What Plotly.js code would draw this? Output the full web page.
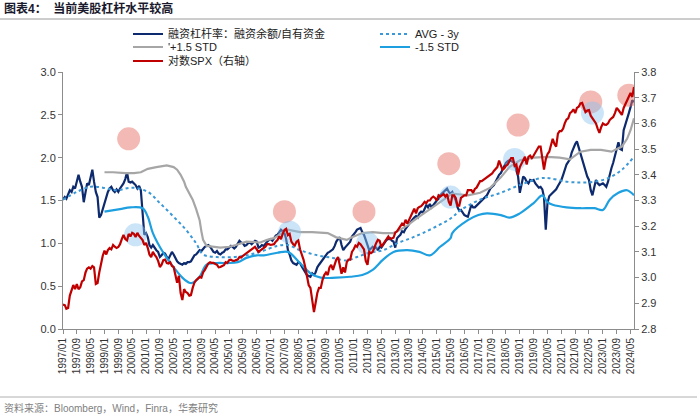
<!DOCTYPE html>
<html><head><meta charset="utf-8">
<script src="https://cdn.plot.ly/plotly-3.0.1.min.js"></script>
<style>html,body{margin:0;padding:0;background:#fff;}#chart{width:700px;height:416px;}</style>
</head><body><div id="chart"></div>
<script>
// ---- data ----
const levStart = '1997-01';
const levVals = [
1.51,1.54,1.52,1.57,1.62,1.60,1.66,1.64,1.72,1.80,1.72,1.66,
1.48,1.60,1.70,1.68,1.76,1.86,1.72,1.60,1.54,1.30,1.33,1.40,
1.49,1.55,1.60,1.64,1.66,1.62,1.60,1.63,1.60,1.64,1.67,1.70,
1.75,1.83,1.72,1.71,1.72,1.70,1.68,1.64,1.67,1.62,1.35,1.10,
1.12,1.07,0.98,0.95,0.98,0.94,0.92,0.90,0.84,0.86,0.89,0.88,
0.84,0.82,0.86,0.90,0.87,0.82,0.79,0.77,0.76,0.75,0.77,0.76,
0.78,0.78,0.79,0.82,0.86,0.87,0.89,0.92,0.91,0.94,0.96,0.97,
0.98,0.96,0.93,0.90,0.89,0.91,0.88,0.87,0.89,0.90,0.93,0.93,
0.95,0.97,0.96,0.94,0.96,0.99,1.03,1.01,1.00,0.97,0.98,1.00,
1.01,0.99,1.01,1.03,1.02,0.95,0.96,0.98,0.97,1.00,1.02,1.04,
1.05,1.03,1.06,1.09,1.10,1.13,1.16,1.14,1.12,1.05,0.92,0.87,
0.80,0.77,0.76,0.75,0.78,0.77,0.73,0.69,0.66,0.63,0.62,0.61,
0.65,0.63,0.66,0.72,0.75,0.78,0.81,0.84,0.86,0.89,0.90,0.92,
0.93,0.97,1.02,1.05,1.07,0.98,0.92,0.95,0.97,1.00,1.02,1.08,
1.10,1.13,1.16,1.17,1.18,1.13,1.10,1.04,0.98,0.92,0.94,0.96,
0.94,0.95,0.92,0.96,0.95,0.98,1.00,1.04,1.05,1.06,1.03,1.02,
0.95,1.06,1.08,1.10,1.14,1.13,1.17,1.20,1.22,1.25,1.28,1.30,
1.32,1.30,1.35,1.37,1.36,1.40,1.45,1.42,1.46,1.42,1.45,1.47,
1.50,1.52,1.56,1.58,1.60,1.62,1.64,1.60,1.58,1.60,1.55,1.50,
1.42,1.38,1.39,1.36,1.33,1.32,1.31,1.38,1.45,1.42,1.42,1.44,
1.46,1.48,1.50,1.52,1.54,1.56,1.60,1.64,1.66,1.68,1.72,1.76,
1.80,1.82,1.86,1.90,1.94,1.96,1.97,1.96,1.95,1.94,1.85,1.78,
1.59,1.70,1.78,1.76,1.72,1.70,1.74,1.73,1.74,1.70,1.68,1.65,
1.66,1.63,1.54,1.16,1.47,1.55,1.57,1.59,1.61,1.63,1.67,1.70,
1.74,1.80,1.86,1.92,1.95,1.98,2.06,2.12,2.16,2.19,2.12,2.06,
1.98,1.90,1.84,1.78,1.74,1.62,1.56,1.66,1.74,1.70,1.68,1.69,
1.70,1.68,1.66,1.72,1.82,1.88,1.94,2.02,2.09,2.18,2.10,2.09,
2.32,2.38,2.44,2.52,2.59,2.67,2.65];

const spxStart = '1997-01';
const spxLogVals = [
2.895,2.893,2.879,2.882,2.930,2.950,2.971,2.955,2.975,2.955,2.963,2.985,
2.990,3.020,3.035,3.040,3.035,3.045,3.040,2.975,2.979,3.020,3.061,3.085,
3.105,3.090,3.107,3.115,3.110,3.127,3.120,3.115,3.119,3.130,3.150,3.166,
3.150,3.145,3.170,3.160,3.174,3.170,3.158,3.174,3.162,3.155,3.146,3.127,
3.135,3.115,3.090,3.080,3.100,3.088,3.080,3.065,3.041,3.050,3.068,3.070,
3.057,3.055,3.060,3.045,3.041,3.010,2.980,3.007,2.940,2.913,2.955,2.944,
2.940,2.930,2.932,2.960,2.980,2.990,2.995,3.002,3.000,3.020,3.030,3.041,
3.055,3.060,3.057,3.057,3.055,3.050,3.040,3.041,3.045,3.048,3.060,3.057,
3.068,3.070,3.066,3.065,3.068,3.070,3.080,3.078,3.085,3.090,3.096,3.100,
3.107,3.110,3.115,3.120,3.110,3.100,3.105,3.110,3.115,3.120,3.130,3.130,
3.127,3.130,3.130,3.140,3.146,3.160,3.150,3.170,3.185,3.190,3.165,3.170,
3.140,3.130,3.125,3.140,3.145,3.110,3.090,3.070,3.040,3.010,2.970,2.960,
2.920,2.866,2.900,2.940,2.960,2.960,2.990,3.010,3.020,3.010,3.040,3.050,
3.030,3.050,3.070,3.080,3.040,3.015,3.040,3.020,3.060,3.070,3.070,3.100,
3.110,3.125,3.120,3.135,3.130,3.120,3.110,3.065,3.050,3.100,3.095,3.100,
3.120,3.135,3.147,3.143,3.120,3.130,3.140,3.150,3.160,3.150,3.152,3.155,
3.175,3.180,3.190,3.200,3.210,3.205,3.225,3.210,3.225,3.245,3.260,3.268,
3.250,3.270,3.275,3.278,3.285,3.295,3.290,3.300,3.300,3.310,3.315,3.310,
3.300,3.320,3.315,3.320,3.325,3.315,3.325,3.295,3.280,3.320,3.320,3.310,
3.280,3.280,3.310,3.315,3.320,3.320,3.340,3.340,3.340,3.330,3.345,3.350,
3.360,3.375,3.375,3.380,3.385,3.390,3.395,3.400,3.405,3.415,3.425,3.430,
3.455,3.435,3.420,3.425,3.435,3.440,3.455,3.465,3.465,3.435,3.440,3.400,
3.430,3.445,3.455,3.470,3.440,3.470,3.475,3.465,3.475,3.485,3.500,3.510,
3.510,3.470,3.420,3.460,3.480,3.490,3.510,3.540,3.520,3.510,3.560,3.570,
3.570,3.580,3.600,3.615,3.620,3.640,3.645,3.655,3.640,3.660,3.665,3.678,
3.680,3.660,3.644,3.650,3.652,3.630,3.620,3.610,3.600,3.580,3.563,3.585,
3.600,3.595,3.594,3.600,3.613,3.620,3.625,3.640,3.660,3.652,3.640,3.633,
3.660,3.675,3.690,3.700,3.718,3.703,3.742];

const avgDates = ['1997-01','1997-09','1998-05','1998-12','1999-08','2000-05','2001-02','2001-09','2002-05','2002-12','2003-06','2003-10','2004-06','2005-03','2005-11','2006-07','2007-05','2007-11','2008-06','2009-04','2010-01','2010-09','2011-03','2011-10','2012-06','2013-02','2013-10','2014-05','2015-01','2015-09','2016-03','2017-02','2018-02','2019-01','2020-01','2020-06','2021-04','2021-12','2022-08','2023-04','2023-12','2024-07'];
const avgVals = [1.51,1.60,1.66,1.65,1.62,1.65,1.60,1.47,1.31,1.16,1.00,0.87,0.84,0.84,0.86,0.90,0.97,0.98,0.92,0.86,0.83,0.80,0.84,0.89,0.92,1.00,1.06,1.12,1.20,1.29,1.39,1.51,1.59,1.68,1.76,1.76,1.72,1.71,1.72,1.76,1.86,2.01];

const upDates = ['1999-01','1999-06','2000-01','2000-06','2000-10','2001-02','2001-07','2002-01','2002-05','2002-07','2002-09','2002-11','2002-12','2003-02','2003-04','2003-06','2003-08','2003-09','2003-10','2003-12','2004-04','2004-08','2005-01','2005-05','2005-11','2006-07','2006-11','2007-03','2007-06','2007-11','2008-06','2009-01','2009-10','2010-03','2010-09','2010-12','2011-06','2011-12','2012-06','2012-12','2013-04','2013-08','2014-02','2014-07','2015-01','2015-07','2015-10','2016-03','2016-07','2017-02','2017-08','2018-02','2018-07','2019-01','2019-09','2020-05','2020-12','2021-06','2021-12','2022-06','2022-12','2023-06','2023-12','2024-03','2024-05','2024-07'];
const upVals = [1.83,1.83,1.82,1.82,1.83,1.87,1.89,1.91,1.89,1.86,1.80,1.72,1.66,1.58,1.51,1.40,1.27,1.14,1.04,0.97,0.96,0.95,0.96,0.98,1.02,1.01,1.04,1.06,1.10,1.16,1.13,1.13,1.12,1.07,1.04,1.07,1.12,1.13,1.12,1.12,1.16,1.21,1.30,1.37,1.45,1.53,1.58,1.57,1.56,1.59,1.65,1.77,1.89,1.97,2.00,2.01,2.00,1.98,2.07,2.09,2.09,2.07,2.13,2.22,2.32,2.46];

const lowDates = ['1999-01','1999-10','2000-04','2000-11','2001-02','2001-05','2001-11','2002-05','2002-10','2003-02','2003-04','2003-08','2003-12','2004-06','2004-12','2005-06','2005-11','2006-05','2006-09','2007-05','2007-11','2008-06','2008-12','2009-06','2010-03','2010-11','2011-06','2011-12','2012-06','2012-12','2013-08','2014-03','2014-09','2015-03','2015-09','2015-10','2016-07','2017-01','2017-06','2018-02','2018-07','2019-01','2019-09','2020-02','2020-05','2020-08','2021-04','2021-12','2022-08','2023-01','2023-05','2023-10','2024-03','2024-07'];
const lowVals = [1.37,1.40,1.42,1.41,1.31,1.12,0.89,0.72,0.60,0.54,0.54,0.61,0.75,0.77,0.77,0.78,0.83,0.86,0.86,0.89,0.90,0.77,0.65,0.60,0.60,0.61,0.63,0.69,0.81,0.90,0.92,0.90,0.86,0.96,1.06,1.12,1.27,1.33,1.35,1.33,1.30,1.35,1.47,1.56,1.48,1.45,1.42,1.41,1.41,1.39,1.51,1.59,1.62,1.56];

// highlight circles (left axis)
const hotDates = ['2000-03','2007-09','2011-07','2015-08','2018-12','2022-06','2024-04'];
const hotVals  = [2.22,1.37,1.37,1.93,2.38,2.65,2.73];
const coolDates = ['2000-07','2007-12','2011-09','2015-09','2018-10','2022-07'];
const coolVals  = [1.10,1.13,1.00,1.54,1.98,2.52];

const xTicks = ['1997-01','1997-09','1998-05','1999-01','1999-09','2000-05','2001-01','2001-09','2002-05','2003-01','2003-09','2004-05','2005-01','2005-09','2006-05','2007-01','2007-09','2008-05','2009-01','2009-09','2010-05','2011-01','2011-09','2012-05','2013-01','2013-09','2014-05','2015-01','2015-09','2016-05','2017-01','2017-09','2018-05','2019-01','2019-09','2020-05','2021-01','2021-09','2022-05','2023-01','2023-09','2024-05'];
const xTickText = xTicks.map(s => s.replace('-', '/'));

const names = ['融资杠杆率：融资余额/自有资金', "'+1.5 STD", '对数SPX（右轴）', 'AVG - 3y', '-1.5 STD'];

function months(start, n) {
  let [y, m] = start.split('-').map(Number);
  const out = [];
  for (let i = 0; i < n; i++) {
    out.push(y + '-' + String(m).padStart(2, '0'));
    m++; if (m > 12) { m = 1; y++; }
  }
  return out;
}
const levDates = months(levStart, levVals.length);
const spxDates = months(spxStart, spxLogVals.length);

// ---- layout helpers (pixel -> paper) ----
const L = 63, R = 66, T = 72, B = 87, W = 700, H = 416;
const pw = W - L - R, ph = H - T - B;
const px = x => (x - L) / pw;
const py = y => (H - B - y) / ph;

const FONT = 'Liberation Sans, Arial, "Noto Sans CJK SC", sans-serif';

const traces = [
  {x: levDates, y: levVals, name: names[0], type: 'scatter', mode: 'lines',
   line: {color: '#0d2a6e', width: 2.2}, legend: 'legend'},
  {x: upDates, y: upVals, name: names[1], type: 'scatter', mode: 'lines',
   line: {color: '#a6a6a6', width: 2.2}, legend: 'legend2'},
  {x: avgDates, y: avgVals, name: names[3], type: 'scatter', mode: 'lines',
   line: {color: '#3b98d6', width: 2, dash: 'dot', shape: 'spline'}, legend: 'legend4'},
  {x: lowDates, y: lowVals, name: names[4], type: 'scatter', mode: 'lines',
   line: {color: '#1ea0e0', width: 2.2, shape: 'spline'}, legend: 'legend5'},
  {x: spxDates, y: spxLogVals, name: names[2], type: 'scatter', mode: 'lines', yaxis: 'y2',
   line: {color: '#c00000', width: 2.2}, legend: 'legend3'},
  {x: hotDates, y: hotVals, type: 'scatter', mode: 'markers', showlegend: false, hoverinfo: 'skip',
   marker: {size: 23, color: 'rgba(232,115,105,0.5)', line: {width: 0}}},
  {x: coolDates, y: coolVals, type: 'scatter', mode: 'markers', showlegend: false, hoverinfo: 'skip',
   marker: {size: 23, color: 'rgba(140,195,240,0.45)', line: {width: 0}}}
];

function leg(xp, yp) {
  return {x: px(xp), xanchor: 'left', y: py(yp), yanchor: 'middle',
          bgcolor: 'rgba(0,0,0,0)', borderwidth: 0, font: {family: FONT, size: 11, color: '#222'},
          itemwidth: 30, orientation: 'v'};
}

const axisCommon = {
  showgrid: false, zeroline: false, showline: true, linecolor: '#8c8c8c', linewidth: 1,
  ticks: 'outside', ticklen: 4, tickcolor: '#8c8c8c', tickwidth: 1,
  tickfont: {family: FONT, size: 11, color: '#333'}
};

const layout = {
  width: W, height: H,
  margin: {l: L, r: R, t: T, b: B},
  paper_bgcolor: '#fff', plot_bgcolor: '#fff',
  font: {family: FONT, size: 11, color: '#333'},
  showlegend: true,
  legend: leg(128, 34),
  legend2: leg(128, 47),
  legend3: leg(128, 61),
  legend4: leg(375, 34),
  legend5: leg(375, 47),
  xaxis: Object.assign({}, axisCommon, {
    type: 'date', range: ['1997-01-01', '2024-07-01'],
    tickmode: 'array', tickvals: xTicks, ticktext: xTickText, tickangle: -90,
    tickfont: {family: FONT, size: 10, color: '#333'}
  }),
  yaxis: Object.assign({}, axisCommon, {
    range: [0, 3], dtick: 0.5, tick0: 0, tickformat: '.1f'
  }),
  yaxis2: Object.assign({}, axisCommon, {
    range: [2.8, 3.8], dtick: 0.1, tick0: 2.8, tickformat: '.1f',
    overlaying: 'y', side: 'right'
  }),
  shapes: [
    {type: 'line', xref: 'paper', yref: 'paper', x0: px(0), x1: px(700), y0: py(19), y1: py(19),
     line: {color: '#9a9a9a', width: 1}},
    {type: 'line', xref: 'paper', yref: 'paper', x0: px(0), x1: px(697), y0: py(397), y1: py(397),
     line: {color: '#b0b0b0', width: 1}}
  ],
  annotations: [
    {text: '<b>图表4：  当前美股杠杆水平较高</b>', xref: 'paper', yref: 'paper',
     x: px(2), y: py(9), xanchor: 'left', yanchor: 'middle', showarrow: false,
     font: {family: FONT, size: 12, color: '#1a1a2e'}},
    {text: '资料来源：Bloomberg，Wind，Finra，华泰研究', xref: 'paper', yref: 'paper',
     x: px(2), y: py(408), xanchor: 'left', yanchor: 'middle', showarrow: false,
     font: {family: FONT, size: 10, color: '#808080'}}
  ]
};

Plotly.newPlot('chart', traces, layout, {staticPlot: true, displayModeBar: false});
</script>
</body></html>
